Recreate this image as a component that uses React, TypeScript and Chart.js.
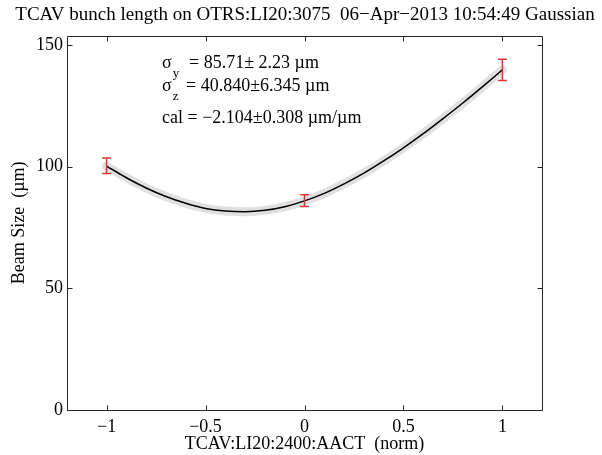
import { useEffect, useRef } from "react";
import { Chart, registerables } from "chart.js";

Chart.register(...registerables);

const FONT = "'Liberation Serif', 'Times New Roman', Times, serif";

const TITLE = "TCAV bunch length on OTRS:LI20:3075  06−Apr−2013 10:54:49 Gaussian";
const X_LABEL = "TCAV:LI20:2400:AACT  (norm)";
const Y_LABEL = "Beam Size  (µm)";

// measured points with error bars
const measX = [-1, 0, 1];
const measY = [100.3, 86.0, 139.7];
const measErr = [3.2, 2.4, 4.4];

// fitted curve
const fitX = [-1, -0.9, -0.8, -0.7, -0.6, -0.5, -0.4, -0.3, -0.2, -0.1, 0, 0.1, 0.2, 0.3, 0.4, 0.5, 0.6, 0.7, 0.8, 0.9, 1];
const fitY = [100.2, 95.4, 91.2, 87.7, 84.9, 82.8, 81.7, 81.4, 82.0, 83.5, 85.9, 89.0, 92.9, 97.3, 102.3, 107.7, 113.5, 119.7, 126.1, 132.8, 139.7];

const xTickValues = [-1, -0.5, 0, 0.5, 1];
const xTickLabels = ["−1", "−0.5", "0", "0.5", "1"];
const yTickValues = [0, 50, 100, 150];
const yTickLabels = ["0", "50", "100", "150"];

// annotation text lines
const annotMain = ["σ", "σ", "cal = −2.104±0.308 µm/µm"];
const annotSub = ["y", "z", ""];
const annotRest = ["= 85.71± 2.23 µm", "= 40.840±6.345 µm", ""];

const ERR_COLOR = "#e2313b";
const BOX_COLOR = "#262626";

const matlabPlugin = {
  id: "matlabDecor",
  afterDatasetsDraw(chart: any) {
    const { ctx, chartArea: a, scales } = chart;
    const xs = scales.x;
    const ys = scales.y;
    ctx.save();
    // error bars
    ctx.strokeStyle = ERR_COLOR;
    ctx.lineWidth = 1.5;
    measX.forEach((mx, i) => {
      const px = xs.getPixelForValue(mx);
      const top = ys.getPixelForValue(measY[i] + measErr[i]);
      const bot = ys.getPixelForValue(measY[i] - measErr[i]);
      ctx.beginPath();
      ctx.moveTo(px, top);
      ctx.lineTo(px, bot);
      ctx.moveTo(px - 4.5, top);
      ctx.lineTo(px + 4.5, top);
      ctx.moveTo(px - 4.5, bot);
      ctx.lineTo(px + 4.5, bot);
      ctx.stroke();
    });
    // box
    const L = Math.round(a.left) + 0.5;
    const R = Math.round(a.right) + 0.5;
    const T = Math.round(a.top) + 0.5;
    const B = Math.round(a.bottom) + 0.5;
    ctx.strokeStyle = BOX_COLOR;
    ctx.lineWidth = 1;
    ctx.beginPath();
    ctx.rect(L, T, R - L, B - T);
    // inward ticks
    const tl = 5;
    xTickValues.forEach((v) => {
      const p = Math.round(xs.getPixelForValue(v)) + 0.5;
      ctx.moveTo(p, B);
      ctx.lineTo(p, B - tl);
      ctx.moveTo(p, T);
      ctx.lineTo(p, T + tl);
    });
    yTickValues.forEach((v) => {
      const p = Math.round(ys.getPixelForValue(v)) + 0.5;
      ctx.moveTo(L, p);
      ctx.lineTo(L + tl, p);
      ctx.moveTo(R, p);
      ctx.lineTo(R - tl, p);
    });
    ctx.stroke();

    // annotation text
    const baselines = [68, 91, 123];
    const restX = [189, 186, 0];
    ctx.fillStyle = "#000";
    ctx.textBaseline = "alphabetic";
    ctx.textAlign = "left";
    annotMain.forEach((m, i) => {
      const x0 = 162;
      ctx.font = `18px ${FONT}`;
      ctx.fillText(m, x0, baselines[i]);
      if (annotSub[i]) {
        const w = ctx.measureText(m).width;
        ctx.font = `13px ${FONT}`;
        ctx.fillText(annotSub[i], x0 + w + 1, baselines[i] + 9);
      }
      if (annotRest[i]) {
        ctx.font = `18px ${FONT}`;
        ctx.fillText(annotRest[i], restX[i], baselines[i]);
      }
    });
    ctx.restore();
  },
};

export default function App() {
  const ref = useRef<HTMLCanvasElement | null>(null);

  useEffect(() => {
    if (!ref.current) return;
    const chart = new Chart(ref.current, {
      type: "scatter",
      data: {
        datasets: [
          {
            label: "fit",
            data: fitX.map((x, i) => ({ x, y: fitY[i] })),
            showLine: true,
            borderColor: "#000000",
            borderWidth: 1.5,
            pointRadius: 0,
            cubicInterpolationMode: "monotone",
          },
          {
            label: "band",
            data: fitX.map((x, i) => ({ x, y: fitY[i] })),
            showLine: true,
            borderColor: "#e0e0e0",
            borderWidth: 9,
            borderCapStyle: "round",
            pointRadius: 0,
            cubicInterpolationMode: "monotone",
          },
          {
            label: "data",
            data: measX.map((x, i) => ({ x, y: measY[i] })),
            pointRadius: 0,
            showLine: false,
          },
        ],
      },
      plugins: [matlabPlugin],
      options: {
        animation: false,
        responsive: false,
        events: [],
        layout: { padding: { left: 8, right: 0, top: 0, bottom: 0 } },
        plugins: {
          legend: { display: false },
          tooltip: { enabled: false },
          title: {
            display: true,
            text: TITLE,
            color: "#000",
            font: { family: FONT, size: 19, weight: "normal" },
            padding: { top: 4, bottom: 9 },
          },
        },
        scales: {
          x: {
            type: "linear",
            position: "bottom",
            min: -1.2,
            max: 1.2,
            grid: { display: false, drawTicks: false },
            border: { display: false },
            afterBuildTicks: (s: any) => {
              s.ticks = xTickValues.map((v) => ({ value: v }));
            },
            afterFit: (s: any) => {
              s.height = 45;
            },
            ticks: {
              autoSkip: false,
              maxRotation: 0,
              padding: 6,
              color: "#000",
              font: { family: FONT, size: 18 },
              callback: (_v: any, i: number) => xTickLabels[i],
            },
            title: {
              display: true,
              text: X_LABEL,
              color: "#000",
              font: { family: FONT, size: 18 },
              padding: { top: 0, bottom: 0 },
            },
          },
          y: {
            type: "linear",
            position: "left",
            min: 0,
            max: 153.7,
            grid: { display: false, drawTicks: false },
            border: { display: false },
            afterBuildTicks: (s: any) => {
              s.ticks = yTickValues.map((v) => ({ value: v }));
            },
            afterFit: (s: any) => {
              s.width = 59;
            },
            ticks: {
              autoSkip: false,
              padding: 4,
              color: "#000",
              font: { family: FONT, size: 18 },
              callback: (_v: any, i: number) => yTickLabels[i],
            },
            title: {
              display: true,
              text: Y_LABEL,
              color: "#000",
              font: { family: FONT, size: 18 },
              padding: { top: 0, bottom: 0 },
            },
          },
          yR: {
            type: "linear",
            position: "right",
            display: true,
            grid: { display: false, drawTicks: false },
            border: { display: false },
            ticks: { display: false },
            afterFit: (s: any) => {
              s.width = 60;
            },
          },
        },
      },
    } as any);
    return () => chart.destroy();
  }, []);

  return (
    <div style={{ position: "absolute", left: 0, top: 0, width: 602, height: 455, background: "#fff" }}>
      <canvas ref={ref} width={602} height={455} style={{ width: 602, height: 455 }} />
    </div>
  );
}
